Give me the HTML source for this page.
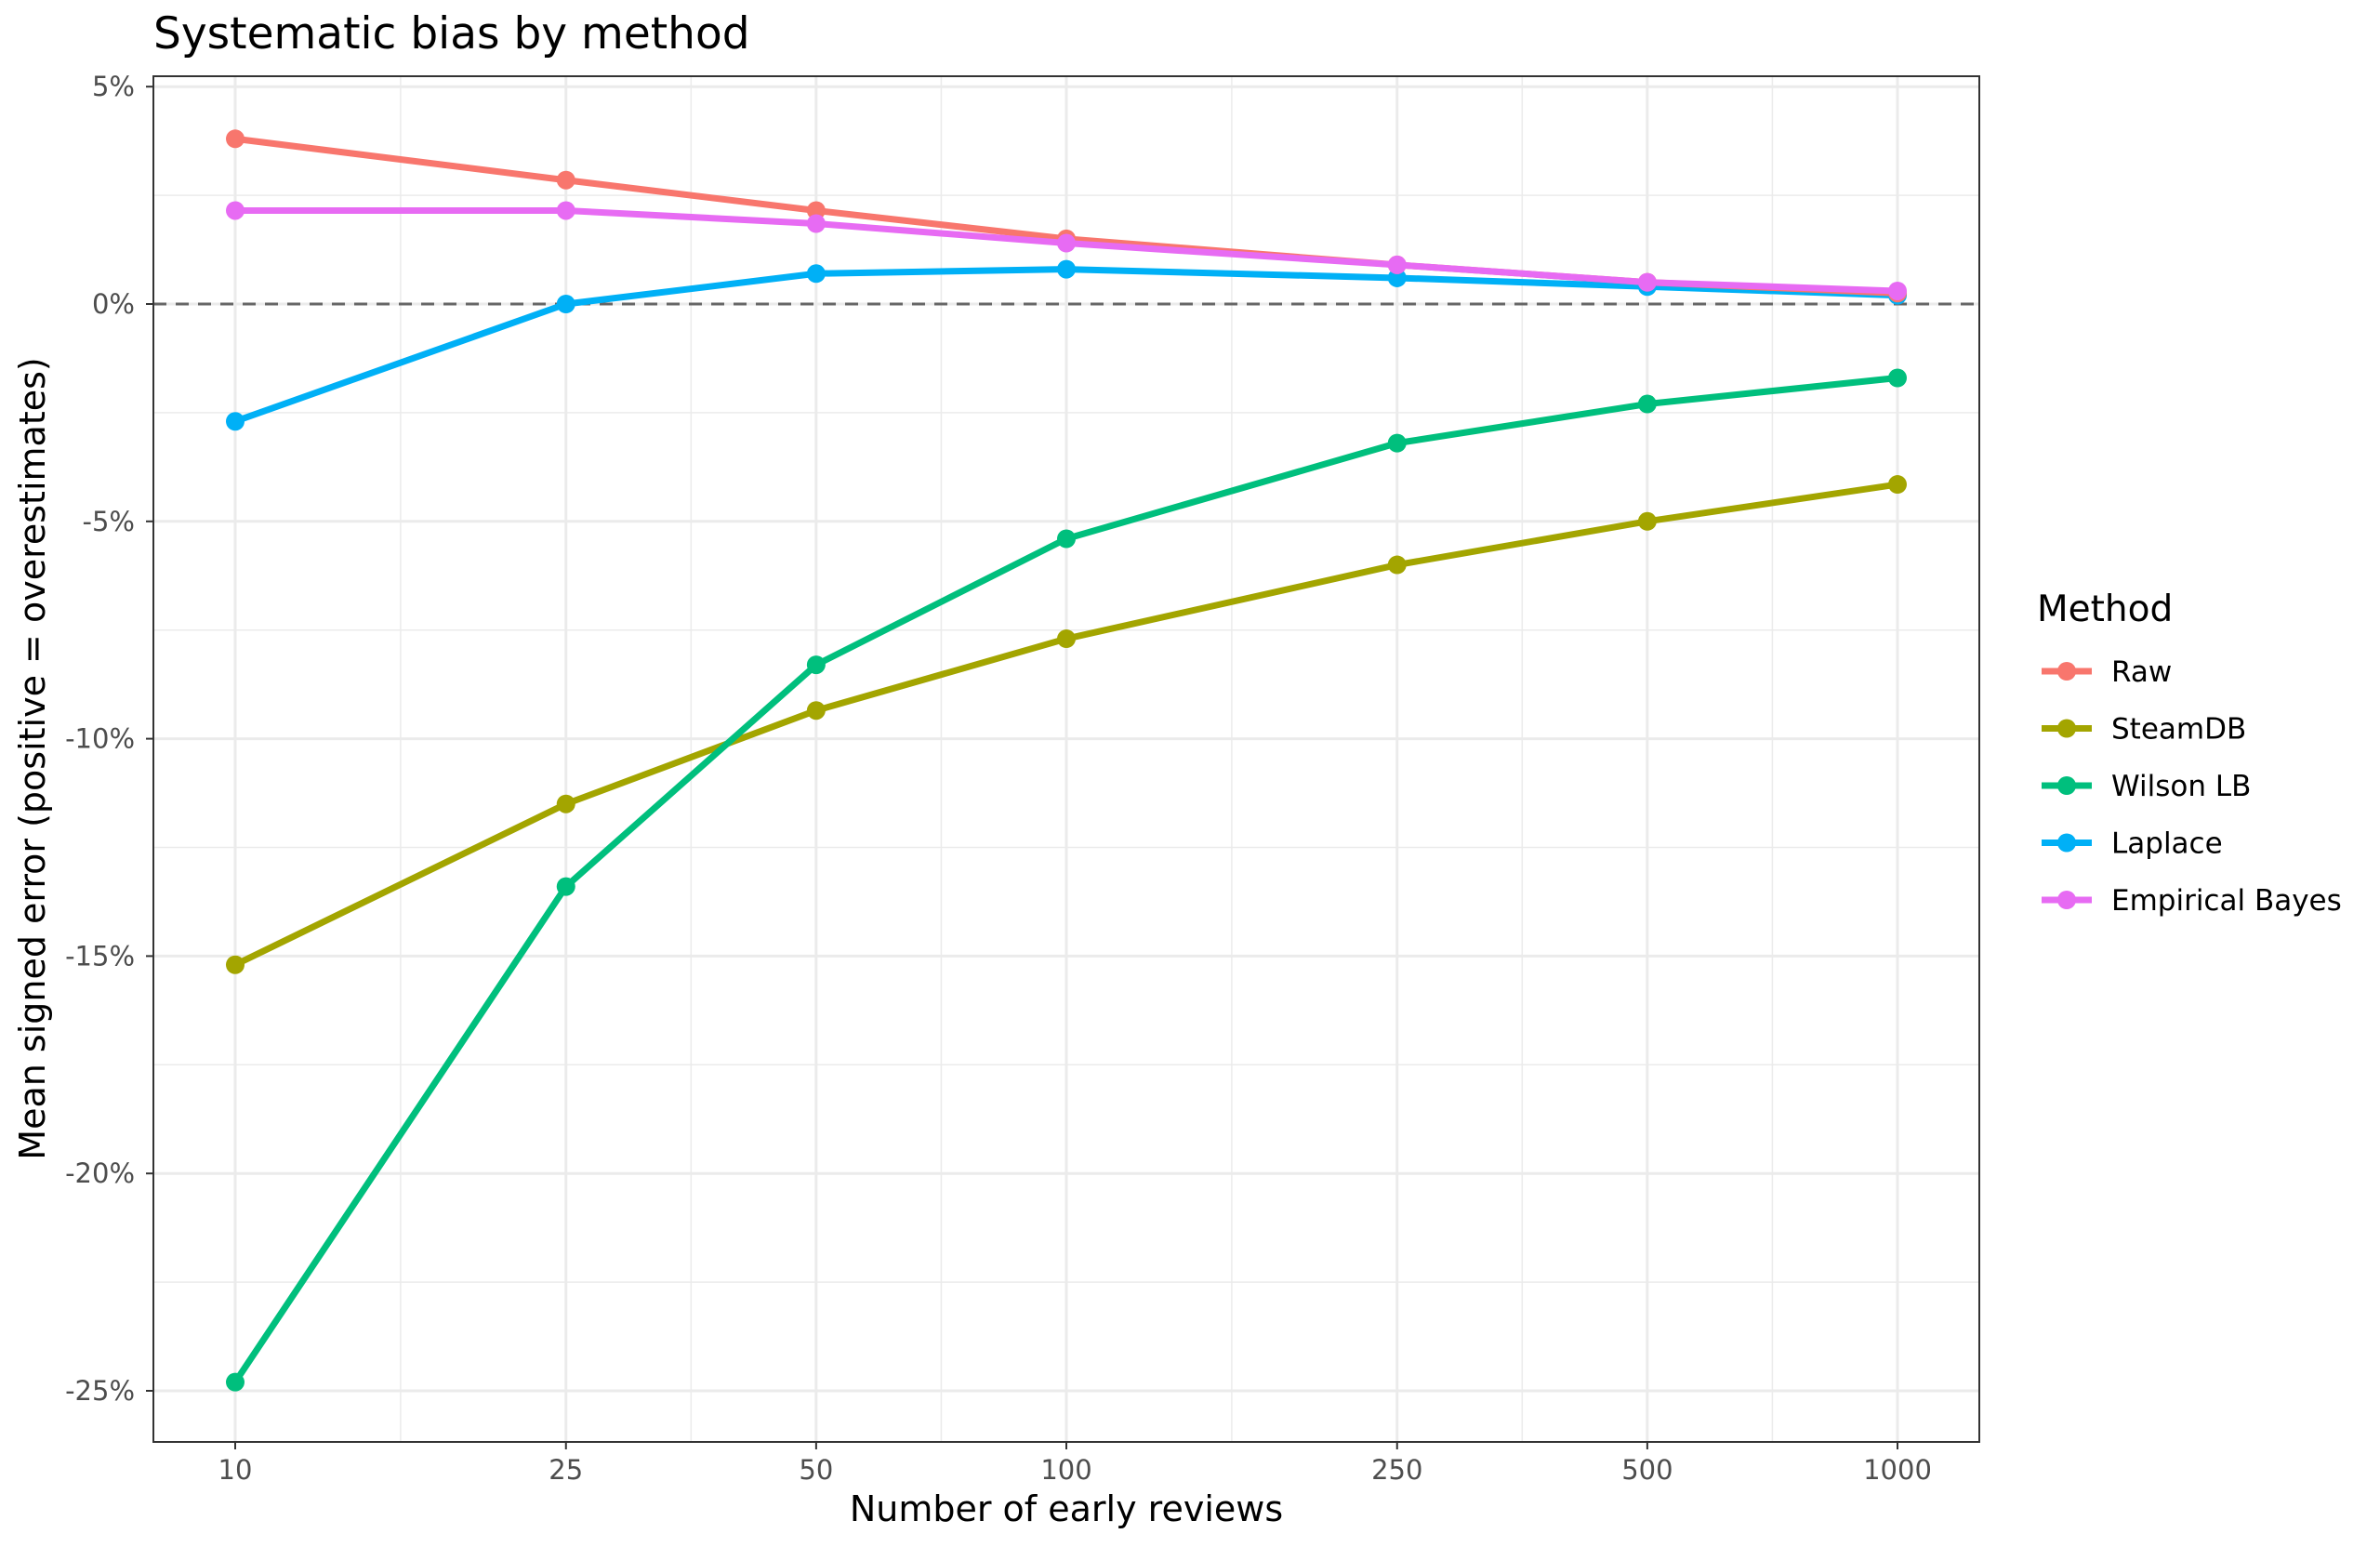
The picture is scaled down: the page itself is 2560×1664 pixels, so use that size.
<!DOCTYPE html>
<html><head><meta charset="utf-8"><style>
html,body{margin:0;padding:0;background:#fff;}
svg{display:block;font-family:"DejaVu Sans","Liberation Sans",sans-serif;}
</style></head><body>
<svg id="s" width="2560" height="1664" viewBox="0 0 2560 1664" xmlns="http://www.w3.org/2000/svg">
<rect width="2560" height="1664" fill="#fff"/>
<g id="grid"></g>
<g id="data"></g>
<rect x="165" y="82" width="1964" height="1469" fill="none" stroke="#333" stroke-width="2"/>
<g id="axes" fill="#4d4d4d" font-size="29"></g>
<text x="165" y="52" font-size="47" fill="#000">Systematic bias by method</text>
<text x="1147" y="1636" font-size="38" fill="#000" text-anchor="middle">Number of early reviews</text>
<text transform="translate(48,816) rotate(-90)" font-size="38" fill="#000" text-anchor="middle">Mean signed error (positive = overestimates)</text>
<g id="legend"></g>
</svg>
<script>
const NS="http://www.w3.org/2000/svg";
function el(p,t,a,txt){const e=document.createElementNS(NS,t);for(const k in a)e.setAttribute(k,a[k]);if(txt!==undefined)e.textContent=txt;document.getElementById(p).appendChild(e);return e;}
const L=165,R=2129,T=82,B=1551;
const X=n=>253+(Math.log10(n)-1)*894;
const Y=v=>327-v*46.76;
for(let v=2.5;v>=-27.5;v-=5){const y=Y(v);if(y>T&&y<B)el("grid","line",{x1:L,x2:R,y1:y,y2:y,stroke:"#ebebeb","stroke-width":1.5});}
const xs=[10,25,50,100,250,500,1000];
for(let i=0;i<xs.length-1;i++){const x=X(Math.sqrt(xs[i]*xs[i+1]));el("grid","line",{x1:x,x2:x,y1:T,y2:B,stroke:"#ebebeb","stroke-width":1.5});}
for(let v=5;v>=-25;v-=5){const y=Y(v);el("grid","line",{x1:L,x2:R,y1:y,y2:y,stroke:"#ebebeb","stroke-width":3});
 el("axes","line",{x1:L-8,x2:L,y1:y,y2:y,stroke:"#333","stroke-width":2});
 el("axes","text",{x:L-20,y:y+10,"text-anchor":"end"},v+"%");}
for(const n of xs){const x=X(n);el("grid","line",{x1:x,x2:x,y1:T,y2:B,stroke:"#ebebeb","stroke-width":3});
 el("axes","line",{x1:x,x2:x,y1:B,y2:B+8,stroke:"#333","stroke-width":2});
 el("axes","text",{x:x,y:B+40,"text-anchor":"middle"},String(n));}
el("data","line",{x1:L,x2:R,y1:Y(0),y2:Y(0),stroke:"#666","stroke-width":3,"stroke-dasharray":"14 10"});
const S=[
["Raw","#F8766D",[3.8,2.85,2.15,1.5,0.9,0.5,0.25]],
["SteamDB","#A3A500",[-15.2,-11.5,-9.35,-7.7,-6.0,-5.0,-4.15]],
["Wilson LB","#00BF7D",[-24.8,-13.4,-8.3,-5.4,-3.2,-2.3,-1.7]],
["Laplace","#00B0F6",[-2.7,0,0.7,0.8,0.6,0.4,0.2]],
["Empirical Bayes","#E76BF3",[2.15,2.15,1.85,1.4,0.9,0.5,0.3]]];
const order=[1,2,3,0,4];
for(const i of order){const [nm,c,d]=S[i];
 el("data","polyline",{points:d.map((v,j)=>X(xs[j])+","+Y(v)).join(" "),fill:"none",stroke:c,"stroke-width":7,"stroke-linejoin":"round"});
 d.forEach((v,j)=>el("data","circle",{cx:X(xs[j]),cy:Y(v),r:10,fill:c}));}
el("legend","text",{x:2191,y:668,"font-size":39,fill:"#000"},"Method");
S.forEach(([nm,c],i)=>{const y=722+i*61.5;
 el("legend","line",{x1:2196,x2:2250,y1:y,y2:y,stroke:c,"stroke-width":7});
 el("legend","circle",{cx:2223,cy:y,r:10,fill:c});
 el("legend","text",{x:2271,y:y+11,"font-size":31,fill:"#000"},nm);});
</script>
</body></html>
